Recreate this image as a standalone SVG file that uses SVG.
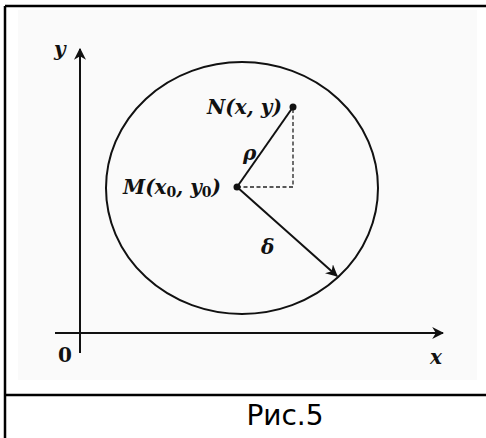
<svg xmlns="http://www.w3.org/2000/svg" width="486" height="438" viewBox="0 0 486 438">
<style>
.frame{stroke:#000;stroke-width:2.5;fill:none}
.ln{stroke:#111;stroke-width:2;fill:none}
.dash{stroke:#222;stroke-width:1.3;stroke-dasharray:4 2.5;fill:none}
.lbl{font-family:"DejaVu Serif","Liberation Serif",serif;font-style:italic;font-weight:bold;fill:#111;font-size:20px}
.up{font-style:normal}
.sub{font-style:normal;font-size:14px}
.cap{font-family:"DejaVu Sans","Liberation Sans",sans-serif;font-size:28px;fill:#000}
</style>
<defs>
<marker id="ah" viewBox="0 0 10 10" refX="9" refY="5" markerWidth="6" markerHeight="6" orient="auto" markerUnits="strokeWidth">
<path d="M0,0 L10,5 L0,10 L3,5 Z" fill="#111"/>
</marker>
</defs>
<rect x="0" y="0" width="486" height="438" fill="#fff"/>
<rect x="18" y="10" width="459" height="370" fill="#fafafa"/>
<g id="frame">
<line class="frame" x1="5" y1="6" x2="486" y2="6"/>
<line class="frame" x1="5" y1="6" x2="5" y2="438"/>
<line class="frame" x1="5" y1="395" x2="486" y2="395"/>
</g>
<g id="circle">
<ellipse class="ln" cx="242" cy="188" rx="136" ry="126"/>
</g>
<g id="connectors">
<line class="ln" x1="80" y1="353" x2="80" y2="49" marker-end="url(#ah)"/>
<line class="ln" x1="55" y1="333" x2="443" y2="333" marker-end="url(#ah)"/>
<line class="ln" x1="237" y1="187" x2="293" y2="107"/>
<line class="ln" x1="237" y1="187" x2="337" y2="276" marker-end="url(#ah)"/>
<polyline class="dash" points="293,109 293,187 239,187"/>
</g>
<g id="pointM">
<circle cx="237" cy="187" r="3.5" fill="#111"/>
<text class="lbl" x="123" y="194">M(x<tspan class="sub" dy="3">0</tspan><tspan dy="-3">, y</tspan><tspan class="sub" dy="3">0</tspan><tspan dy="-3">)</tspan></text>
</g>
<g id="pointN">
<circle cx="293" cy="107" r="3.5" fill="#111"/>
<text class="lbl" x="207" y="114" textLength="75" lengthAdjust="spacing">N(x, y)</text>
</g>
<g id="labels">
<text class="lbl" x="243" y="160">ρ</text>
<text class="lbl" x="261" y="254">δ</text>
<text class="lbl" x="54" y="56">y</text>
<text class="lbl up" x="58" y="362">0</text>
<text class="lbl" x="430" y="364">x</text>
</g>
<g id="caption">
<text class="cap" x="285" y="425" text-anchor="middle">Рис.5</text>
</g>
</svg>
